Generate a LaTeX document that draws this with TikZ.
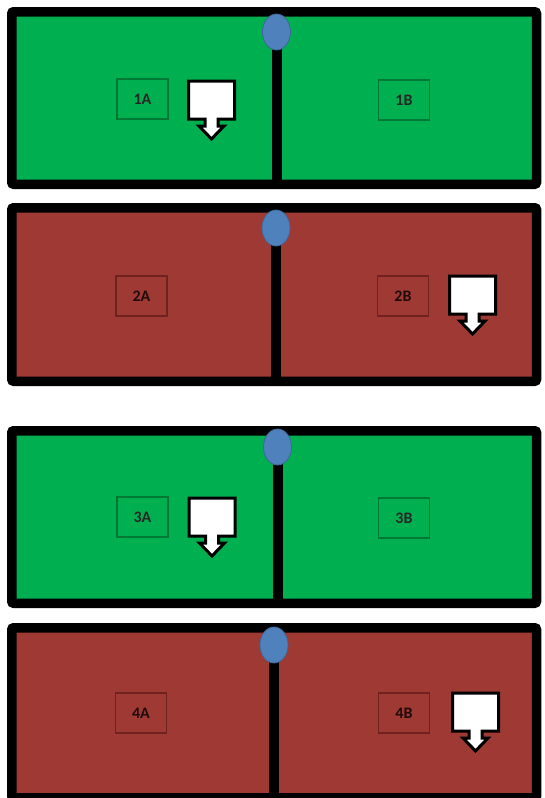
\documentclass[tikz,border=0pt]{standalone}
\usepackage{fontspec}
\setsansfont{Carlito}
\usetikzlibrary{shapes.geometric}

\definecolor{roomgreen}{RGB}{0,176,80}
\definecolor{roomred}{RGB}{158,57,52}
\definecolor{tagedgegreen}{RGB}{0,120,52}
\definecolor{tagedgered}{RGB}{112,34,30}
\definecolor{knobblue}{RGB}{79,129,189}

\tikzset{
  room/.style={draw=black, line width=9.5, rounded corners=2},
  wall/.style={draw=black, line width=10},
  knob/.style={ellipse, fill=knobblue, draw=knobblue!80!black, line width=0.8, minimum width=28, minimum height=36, inner sep=0},
  tag/.style={draw, line width=1.2, minimum width=51, minimum height=40, inner sep=0, font=\sffamily\bfseries\fontsize{16}{16}\selectfont},
  greentag/.style={tag, draw=tagedgegreen, text=black!85},
  redtag/.style={tag, draw=tagedgered, text=black!80!roomred},
  pics/droparrow/.style={code={
    \draw[fill=white, draw=black, line width=3, line join=miter] (-23,0) -- ++(46,0) -- ++(0,38) -- ++(-16.5,0) -- ++(0,7) -- ++(6,0) -- ++(-12.5,13) -- ++(-12.5,-13) -- ++(6,0) -- ++(0,-7) -- ++(-16.5,0) -- cycle;
  }}
}

\begin{document}
\begin{tikzpicture}[x=1pt, y=-1pt]

    \fill[white] (0,0) rectangle (544,798);
    \useasboundingbox (0,0) rectangle (544,798);

    % room 1
    \draw[room, fill=roomgreen] (11.75,11.75) rectangle (536.5,184.25);
    \coordinate (wall1top) at (276.5,11.75);
    \coordinate (wall1bot) at (276.5,184.25);
    \draw[wall] (wall1top) -- (wall1bot);
    \node[knob] (knob1) at (276.5,32) {};
    \node[greentag] (tag1A) at (142.5,99) {1A};
    \node[greentag] (tag1B) at (404,100) {1B};
    \pic at (211.5,81) {droparrow};

    % room 2
    \draw[room, fill=roomred] (11.75,207.75) rectangle (536.5,381.25);
    \coordinate (wall2top) at (276,207.75);
    \coordinate (wall2bot) at (276,381.25);
    \draw[wall] (wall2top) -- (wall2bot);
    \node[knob] (knob2) at (276,228) {};
    \node[redtag] (tag2A) at (141.5,296) {2A};
    \node[redtag] (tag2B) at (403,296) {2B};
    \pic at (472.5,276) {droparrow};

    % room 3
    \draw[room, fill=roomgreen] (11.75,430.75) rectangle (536.5,603.25);
    \coordinate (wall3top) at (277.5,430.75);
    \coordinate (wall3bot) at (277.5,603.25);
    \draw[wall] (wall3top) -- (wall3bot);
    \node[knob] (knob3) at (277.5,447) {};
    \node[greentag] (tag3A) at (142.5,517) {3A};
    \node[greentag] (tag3B) at (404,518) {3B};
    \pic at (212,498) {droparrow};

    % room 4
    \draw[room, fill=roomred] (11.75,627.75) rectangle (536.5,797.75);
    \coordinate (wall4top) at (274,627.75);
    \coordinate (wall4bot) at (274,797.75);
    \draw[wall] (wall4top) -- (wall4bot);
    \node[knob] (knob4) at (274,645) {};
    \node[redtag] (tag4A) at (141,713) {4A};
    \node[redtag] (tag4B) at (404,713) {4B};
    \pic at (475.5,693) {droparrow};

\end{tikzpicture}
\end{document}
